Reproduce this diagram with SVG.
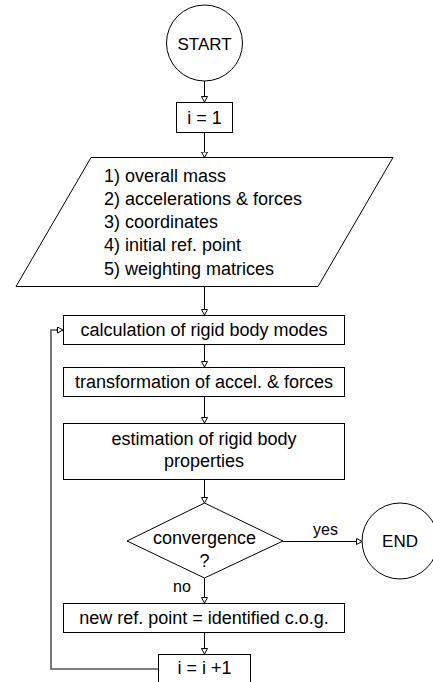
<svg xmlns="http://www.w3.org/2000/svg" width="433" height="682" viewBox="0 0 433 682">
  <style>
    .shape { fill: #ffffff; stroke: #000000; stroke-width: 1; }
    .conn { fill: none; stroke: #000000; stroke-width: 1; }
    .loop { fill: none; stroke: #555555; stroke-width: 1.6; }
    text { font-family: "Liberation Sans", Arial, sans-serif; fill: #000000; }
    .t { font-size: 18px; text-anchor: middle; }
    .tl { font-size: 18px; text-anchor: start; }
    .term { font-size: 17px; text-anchor: middle; }
    .lbl { font-size: 16px; }
  </style>
  <defs>
    <marker id="arr" viewBox="0 0 6.5 7" refX="6" refY="3.5" markerWidth="6.5" markerHeight="7" markerUnits="userSpaceOnUse" orient="auto">
      <path d="M0.5,0.5 L6,3.5 L0.5,6.5 Z" fill="#ffffff" stroke="#000000" stroke-width="1"/>
    </marker>
  </defs>
  <rect width="433" height="682" fill="#ffffff"/>

  <g id="connectors">
    <path class="conn" d="M204.5,81 V102" marker-end="url(#arr)"/>
    <path class="conn" d="M204.5,132.5 V157.5" marker-end="url(#arr)"/>
    <path class="conn" d="M204.5,286.5 V315" marker-end="url(#arr)"/>
    <path class="conn" d="M204.5,344.5 V367" marker-end="url(#arr)"/>
    <path class="conn" d="M204.5,396.5 V423" marker-end="url(#arr)"/>
    <path class="conn" d="M204.5,479.5 V503" marker-end="url(#arr)"/>
    <path class="conn" d="M283,541.5 H362" marker-end="url(#arr)"/>
    <path class="conn" d="M204.5,578 V603" marker-end="url(#arr)"/>
    <path class="conn" d="M204.5,632.5 V654" marker-end="url(#arr)"/>
    <path class="loop" d="M158,669 H51 V330 H57"/>
    <path class="conn" d="M56,330 H63" marker-end="url(#arr)"/>
    <text class="lbl" x="313" y="534.5">yes</text>
    <text class="lbl" x="173" y="592">no</text>
  </g>

  <g id="start">
    <circle class="shape" cx="204.5" cy="43" r="38"/>
    <text class="term" x="204.5" y="49.5">START</text>
  </g>

  <g id="init">
    <rect class="shape" x="176.5" y="102.5" width="56" height="30"/>
    <text class="t" x="204.5" y="123.5">i = 1</text>
  </g>

  <g id="input">
    <polygon class="shape" points="91,157.5 393,157.5 318,286.5 16,286.5"/>
    <text class="tl" x="104" y="181.5">1) overall mass</text>
    <text class="tl" x="104" y="204.8">2) accelerations &amp; forces</text>
    <text class="tl" x="104" y="228.1">3) coordinates</text>
    <text class="tl" x="104" y="251.4">4) initial ref. point</text>
    <text class="tl" x="104" y="274.7">5) weighting matrices</text>
  </g>

  <g id="calc">
    <rect class="shape" x="63.5" y="315.5" width="281" height="29"/>
    <text class="t" x="204" y="336">calculation of rigid body modes</text>
  </g>

  <g id="transform">
    <rect class="shape" x="63.5" y="367.5" width="281" height="29"/>
    <text class="t" x="204" y="388">transformation of accel. &amp; forces</text>
  </g>

  <g id="estimate">
    <rect class="shape" x="63.5" y="423.5" width="281" height="56"/>
    <text class="t" x="204" y="444.5">estimation of rigid body</text>
    <text class="t" x="204" y="467">properties</text>
  </g>

  <g id="convergence">
    <polygon class="shape" points="204.5,503 283,541 204.5,578 127,541"/>
    <text class="t" x="204.5" y="544">convergence</text>
    <text class="t" x="204.5" y="567">?</text>
  </g>

  <g id="end">
    <circle class="shape" cx="400" cy="541" r="38"/>
    <text class="term" x="400" y="547">END</text>
  </g>

  <g id="newref">
    <rect class="shape" x="63.5" y="603.5" width="281" height="29"/>
    <text class="t" x="204" y="624">new ref. point = identified c.o.g.</text>
  </g>

  <g id="increment">
    <rect class="shape" x="158.5" y="654.5" width="92" height="40"/>
    <text class="t" x="204.5" y="674">i = i +1</text>
  </g>
</svg>
